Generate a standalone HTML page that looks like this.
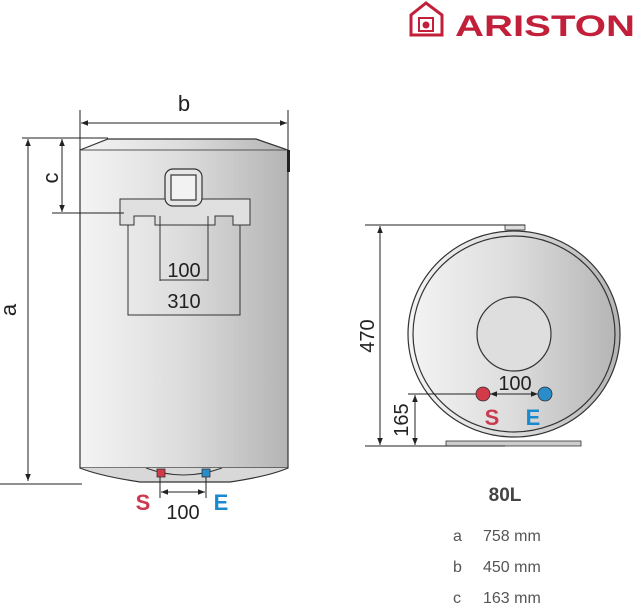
<!DOCTYPE html>
<html><head><meta charset="utf-8"><style>
html,body{margin:0;padding:0;background:#fff;}
svg{display:block;font-family:"Liberation Sans",sans-serif;}
</style></head><body>
<svg width="640" height="607" viewBox="0 0 640 607" xmlns="http://www.w3.org/2000/svg">
<defs>
<linearGradient id="g" x1="0" x2="1" y1="0" y2="0">
<stop offset="0" stop-color="#f4f4f4"/><stop offset="0.5" stop-color="#dcdcdc"/><stop offset="1" stop-color="#b4b4b4"/>
</linearGradient>
<marker id="ar" viewBox="0 0 10 10" refX="10" refY="5" markerWidth="7" markerHeight="7" orient="auto-start-reverse"><path d="M0,1 L10,5 L0,9 z" fill="#222"/></marker>
</defs>
<!-- logo -->
<path d="M411,35 V15 L426,3 L442,15 V35 Z" fill="none" stroke="#c21f3a" stroke-width="3"/>
<rect x="419" y="18" width="14" height="13" fill="none" stroke="#c21f3a" stroke-width="2"/>
<circle cx="426" cy="25" r="3.5" fill="#c21f3a"/>
<text x="455" y="36" font-size="30" font-weight="bold" fill="#c21f3a" textLength="180" lengthAdjust="spacingAndGlyphs">ARISTON</text>

<!-- left tank -->
<path d="M80,150 L108,139 L256,139 L288,150 L288,468 L80,468 Z" fill="url(#g)" stroke="#333" stroke-width="1.2"/>
<path d="M80,150 L288,150" stroke="#555" stroke-width="1"/>
<rect x="287" y="150" width="3" height="22" fill="#222"/>
<path d="M80,468 Q100,476 140,482 L230,482 Q270,476 288,468" fill="#d8d8d8" stroke="#333" stroke-width="1.2"/>
<path d="M146,468 Q183,482 222,468" fill="none" stroke="#333"/>
<rect x="157" y="469" width="8" height="8" fill="#d23a4a" stroke="#333" stroke-width="0.8"/>
<rect x="202" y="469" width="8" height="8" fill="#2a8cc8" stroke="#333" stroke-width="0.8"/>
<!-- bracket -->
<path d="M120,199 H250 V225 H233 V216 H215 V225 H155 V216 H134 V225 H120 Z" fill="#e0e0e0" stroke="#333" stroke-width="1"/>
<path d="M128,225 V315 H240 V225" fill="none" stroke="#333" stroke-width="1"/>
<path d="M160,216 V281 M208,216 V281 M160,280 H208" fill="none" stroke="#333" stroke-width="1"/>
<!-- control box -->
<rect x="165" y="169" width="37" height="37" rx="8" fill="#e6e6e6" stroke="#333" stroke-width="1.2"/>
<rect x="171" y="175" width="25" height="25" fill="#f2f2f2" stroke="#333" stroke-width="1.2"/>
<text x="184" y="277" font-size="20" text-anchor="middle" fill="#222">100</text>
<text x="184" y="308" font-size="20" text-anchor="middle" fill="#222">310</text>
<!-- dims left -->
<g stroke="#222" stroke-width="1" fill="none">
<path d="M80,110 V150 M288,110 V150"/>
<path d="M81,123 H287" marker-start="url(#ar)" marker-end="url(#ar)"/>
<path d="M22,138 H108"/>
<path d="M28,139 V481" marker-start="url(#ar)" marker-end="url(#ar)"/>
<path d="M0,484 H82"/>
<path d="M62,139 V212" marker-start="url(#ar)" marker-end="url(#ar)"/>
<path d="M52,213 H124"/>
<path d="M160,477 V498 M206,477 V498"/>
<path d="M161,492 H205" marker-start="url(#ar)" marker-end="url(#ar)"/>
</g>
<text x="184" y="111" font-size="22" text-anchor="middle" fill="#222">b</text>
<text transform="translate(16,310) rotate(-90)" font-size="22" text-anchor="middle" fill="#222">a</text>
<text transform="translate(58,178) rotate(-90)" font-size="22" text-anchor="middle" fill="#222">c</text>
<text x="143" y="510" font-size="22" font-weight="bold" text-anchor="middle" fill="#cc3a50">S</text>
<text x="221" y="510" font-size="22" font-weight="bold" text-anchor="middle" fill="#1a8ad0">E</text>
<text x="183" y="519" font-size="20" text-anchor="middle" fill="#222">100</text>

<!-- right tank -->
<rect x="505" y="225" width="20" height="5" fill="#ddd" stroke="#333" stroke-width="0.8"/>
<rect x="446" y="441" width="135" height="5" fill="#ccc" stroke="#333" stroke-width="0.8"/>
<ellipse cx="514" cy="334" rx="106" ry="103" fill="url(#g)" stroke="#333" stroke-width="1.2"/>
<ellipse cx="514" cy="334" rx="101" ry="98" fill="none" stroke="#333" stroke-width="1.2"/>
<circle cx="514" cy="334" r="37" fill="#dedede" stroke="#333" stroke-width="1.2"/>
<g stroke="#222" stroke-width="1" fill="none">
<path d="M365,225 H525"/>
<path d="M380,226 V445" marker-start="url(#ar)" marker-end="url(#ar)"/>
<path d="M365,446 H505"/>
<path d="M408,394 H545"/>
<path d="M415,395 V445" marker-start="url(#ar)" marker-end="url(#ar)"/>
<path d="M490,394 H538" marker-start="url(#ar)" marker-end="url(#ar)"/>
</g>
<circle cx="483" cy="394" r="7" fill="#d23a4a" stroke="#333" stroke-width="0.8"/>
<circle cx="545" cy="394" r="7" fill="#2a8cc8" stroke="#333" stroke-width="0.8"/>
<text x="515" y="390" font-size="20" text-anchor="middle" fill="#222">100</text>
<text x="492" y="425" font-size="22" font-weight="bold" text-anchor="middle" fill="#cc3a50">S</text>
<text x="533" y="425" font-size="22" font-weight="bold" text-anchor="middle" fill="#1a8ad0">E</text>
<text transform="translate(374,336) rotate(-90)" font-size="20" text-anchor="middle" fill="#222">470</text>
<text transform="translate(408,420) rotate(-90)" font-size="20" text-anchor="middle" fill="#222">165</text>

<!-- table -->
<text x="505" y="501" font-size="19" font-weight="bold" text-anchor="middle" fill="#444">80L</text>
<g font-size="16" fill="#555">
<text x="453" y="541">a</text><text x="483" y="541">758 mm</text>
<text x="453" y="572">b</text><text x="483" y="572">450 mm</text>
<text x="453" y="603">c</text><text x="483" y="603">163 mm</text>
</g>
</svg>
</body></html>
